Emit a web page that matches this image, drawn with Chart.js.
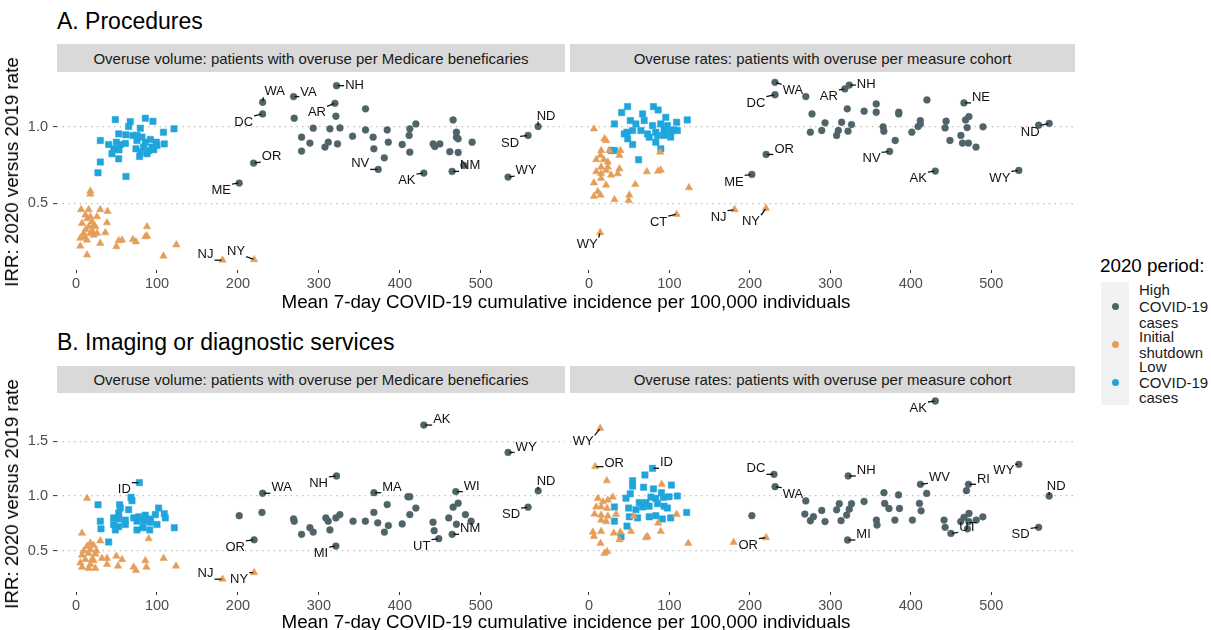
<!DOCTYPE html>
<html><head><meta charset="utf-8">
<script src="https://cdn.jsdelivr.net/npm/chart.js@4.4.1/dist/chart.umd.min.js"></script>
<style>
html,body{margin:0;padding:0;background:#fff;}
#wrap{position:relative;width:1211px;height:630px;overflow:hidden;font-family:"Liberation Sans",Arial,sans-serif;background:#fff;}
.abs{position:absolute;}
.ptitle{font-size:23px;color:#000;line-height:24px;white-space:nowrap;}
.strip{background:#D9D9D9;color:#1a1a1a;font-size:15px;display:flex;align-items:center;justify-content:center;white-space:nowrap;}
.xtitle{font-size:18.8px;color:#000;line-height:20px;white-space:nowrap;width:1018px;text-align:center;}
.ytitle{font-size:18.8px;color:#000;line-height:20px;white-space:nowrap;transform:translate(-50%,-50%) rotate(-90deg);}
.lgtitle{font-size:18.8px;color:#000;line-height:20px;white-space:nowrap;}
.lgbg{background:#F2F2F2;}
.lgdot{width:7px;height:7px;border-radius:50%;}
.lgtxt{font-size:15px;color:#1a1a1a;line-height:15.5px;white-space:nowrap;}
</style>
</head><body>
<div id="wrap">
  <div class="abs ptitle" style="left:57px;top:9px">A. Procedures</div>
  <div class="abs strip" style="left:57px;top:44px;width:508px;height:28px">Overuse volume: patients with overuse per Medicare beneficaries</div>
  <div class="abs strip" style="left:570px;top:44px;width:505px;height:28px">Overuse rates: patients with overuse per measure cohort</div>
  <canvas id="cA1" class="abs" style="left:0;top:72px" width="565" height="223"></canvas>
  <canvas id="cA2" class="abs" style="left:570px;top:72px" width="505" height="223"></canvas>
  <div class="abs xtitle" style="left:57px;top:292px">Mean 7-day COVID-19 cumulative incidence per 100,000 individuals</div>
  <div class="abs ytitle" style="left:12px;top:172px">IRR: 2020 versus 2019 rate</div>

  <div class="abs ptitle" style="left:57px;top:330px">B. Imaging or diagnostic services</div>
  <div class="abs strip" style="left:57px;top:366px;width:508px;height:27px">Overuse volume: patients with overuse per Medicare beneficaries</div>
  <div class="abs strip" style="left:570px;top:366px;width:505px;height:27px">Overuse rates: patients with overuse per measure cohort</div>
  <canvas id="cB1" class="abs" style="left:0;top:393px" width="565" height="224"></canvas>
  <canvas id="cB2" class="abs" style="left:570px;top:393px" width="505" height="224"></canvas>
  <div class="abs xtitle" style="left:57px;top:612px">Mean 7-day COVID-19 cumulative incidence per 100,000 individuals</div>
  <div class="abs ytitle" style="left:12px;top:494px">IRR: 2020 versus 2019 rate</div>

  <div class="abs lgtitle" style="left:1100px;top:256px">2020 period:</div>
  <div class="abs lgbg" style="left:1101px;top:282px;width:28px;height:123px"></div>
  <div class="abs lgdot" style="left:1112px;top:303px;background:#4F6369"></div>
  <div class="abs lgdot" style="left:1112px;top:341px;background:#E59E5A"></div>
  <div class="abs lgdot" style="left:1112px;top:379px;background:#1FA5DC"></div>
  <div class="abs lgtxt" style="left:1139px;top:282px;line-height:16.5px">High<br>COVID-19<br>cases</div>
  <div class="abs lgtxt" style="left:1139px;top:329px">Initial<br>shutdown</div>
  <div class="abs lgtxt" style="left:1139px;top:359px">Low<br>COVID-19<br>cases</div>
</div>
<script>
// ---------- data ----------
const X_TICKS = [0, 100, 200, 300, 400, 500];
const Y_TICKS_A = [0.5, 1.0];
const Y_TICKS_B = [0.5, 1.0, 1.5];

// A. Procedures — overuse volume
const A_VOL_HIGH = [[230.5,1.158,'WA'],[230.5,1.082,'DC'],[268.7,1.195,'VA'],[269.5,1.054],[219.3,0.762,'OR'],[201.6,0.632,'ME'],
[321.8,1.266,'NH'],[319.8,1.151,'AR'],[321,1.067],[357.6,1.115],[278.6,0.931],[278.6,0.84],[293,0.989],[288.9,0.892],[313.6,0.985],[326,0.991],[311.6,0.898],[307.5,0.866],[323,0.887],[341.6,0.937],[357.6,0.978],[367,0.931],[367.9,0.855],[384.4,0.978],[385.7,0.898],[380.8,0.796],[373.3,0.721,'NV'],[402.9,0.883],[411.5,0.942],[412.3,0.985],[419.8,1.017],[412.3,0.833],[429.6,0.697,'AK'],[441.1,0.887],[443.2,0.87],[449.4,0.887],[465.8,1.043],[469.9,0.963],[469.9,0.931],[472,0.92],[461.7,0.836],[472,0.831],[489.3,0.898],[479,0.747],[464.6,0.708,'NM'],[533.7,0.671,'WY'],[558.4,0.942,'SD'],[570.8,1.0,'ND']];
const A_VOL_SHUT = [[17.7,0.58],[17.7,0.56],[6.2,0.459],[15.6,0.459],[29.9,0.459],[39,0.448],[11.5,0.424],[17.7,0.413],[25.9,0.413],[19.7,0.38],[7.4,0.37],[38.3,0.374],[15.6,0.348],[23.9,0.348],[9.5,0.305],[17.7,0.305],[25.9,0.305],[36.2,0.309],[5.3,0.273],[13.6,0.261],[21.8,0.294],[29.9,0.24],[5.3,0.222],[13.6,0.164],[52.7,0.257],[56.8,0.261],[49.8,0.218],[70.3,0.265],[74,0.25],[87.7,0.348],[87.7,0.287],[85.6,0.283],[108,0.157],[123.9,0.23],[12,0.33],[20,0.32],[14,0.4],[22,0.36],[10,0.28],[181,0.13,'NJ'],[220,0.134,'NY']];
const A_VOL_LOW = [[48.5,1.045],[67,1.032],[85.6,1.054],[95,1.034],[65,1.0],[79.4,0.989],[108,0.963],[121,0.985],[52.7,0.952],[61.5,0.946],[70.2,0.942],[30,0.909],[40.3,0.883],[49.8,0.898],[54.7,0.883],[46.5,0.855],[53,0.848],[75.3,0.909],[81.5,0.931],[85.6,0.898],[91.8,0.916],[99.2,0.898],[109,0.887],[74,0.855],[83.5,0.866],[93.8,0.866],[100,0.877],[79.4,0.834],[87.7,0.823],[96,0.849],[78.6,0.805],[44.4,0.823],[52.7,0.79],[30,0.769],[27.1,0.699],[61.7,0.675],[75.3,0.942],[61,0.89],[89.7,0.844]];

// A. Procedures — overuse rates
const A_RATE_HIGH = [[231.2,1.288,'WA'],[231.2,1.207,'DC'],[269.5,1.195],[277.2,1.082],[275.2,0.963],[220.2,0.818,'OR'],[202.5,0.688,'ME'],
[318,1.245,'AR'],[323.5,1.27,'NH'],[321,1.115],[342,1.1],[357,1.147],[357,1.093],[385,1.093],[385,1.082],[420,1.173],[293.4,1.024],[289.3,0.974],[309.9,0.974],[314,1.028],[326.3,1.013],[322,0.97],[307.8,0.942],[365.6,0.998],[366.5,0.97],[380.6,0.909],[373.6,0.838,'NV'],[401.3,0.963],[409,1.0],[411.8,1.039],[411.8,1.017],[443.8,1.035],[442.6,0.991],[448.6,0.909],[462.2,0.942],[464.2,0.892],[471.6,0.892],[481,0.866],[468,1.043],[472.2,1.065],[470,0.993],[489.7,0.998],[466,1.154,'NE'],[430.4,0.71,'AK'],[534.2,0.714,'WY'],[571.9,1.02,'ND'],[558.8,1.009]];
const A_RATE_SHUT = [[6.2,0.985],[19.3,0.92],[21.4,0.909],[15.2,0.844],[25.4,0.844],[39.1,0.844],[14.4,0.812],[37.9,0.812],[9.1,0.784],[18.5,0.784],[23.5,0.769],[15.2,0.736],[23.5,0.736],[37.9,0.725],[9.1,0.706],[15.2,0.693],[21.4,0.714],[27.6,0.684],[35.8,0.693],[6.2,0.634],[21.4,0.619],[15.2,0.662],[11.1,0.576],[14.4,0.554],[6.2,0.545],[31.7,0.524],[50.2,0.554],[49.4,0.519],[57.6,0.623],[72,0.706],[89.3,0.717],[86,0.71],[88.5,0.833],[124.3,0.602],[109,0.429,'CT'],[181,0.459,'NJ'],[220,0.468,'NY'],[14,0.31,'WY']];
const A_RATE_LOW = [[48.1,1.13],[80.2,1.13],[86,1.108],[40.7,1.091],[66.7,1.082],[95.5,1.06],[31.7,1.017],[51.4,1.039],[58.4,1.017],[68.7,1.039],[79,1.006],[89.3,1.017],[97.5,1.006],[109,1.028],[122.2,1.043],[47.3,0.963],[54.3,0.974],[64.6,0.974],[72.8,0.952],[83.1,0.963],[93.4,0.978],[101.6,0.967],[109.9,0.974],[48.2,0.92],[54.3,0.883],[74.9,0.931],[85.2,0.942],[93.4,0.942],[101.6,0.931],[83.1,0.898],[89.3,0.855],[27.6,0.844],[31.7,0.844],[61.7,0.784],[105.8,0.978],[44,0.952]];

// B. Imaging — overuse volume
const B_VOL_HIGH = [[230.5,1.025,'WA'],[229.7,0.85],[201.6,0.82],[220,0.6,'OR'],[268.7,0.79],[269.5,0.77],
[429.6,1.648,'AK'],[533.7,1.398,'WY'],[321.8,1.183,'NH'],[368,1.03,'MA'],[410,0.993],[412.3,0.993],[469.1,1.04,'WI'],[472,0.934],[465.8,0.898],[570.8,1.047,'ND'],[558.4,0.898,'SD'],[384.4,0.922],[419.8,0.89],[367.9,0.85],[412.3,0.83],[460.4,0.8],[481,0.83],[488,0.77],[342.2,0.77],[357.4,0.77],[372.7,0.755],[385.8,0.73],[380.9,0.67],[402.9,0.745],[441,0.76],[442.4,0.683],[469.9,0.742],[464.6,0.65,'NM'],[448.1,0.61,'UT'],[321,0.543,'MI'],[308.6,0.8],[311.5,0.77],[321,0.8],[325.9,0.83],[313.6,0.69],[288.9,0.71],[293,0.67],[278.6,0.65]];
const B_VOL_SHUT = [[13.6,0.978],[7.4,0.66],[30,0.59],[89.7,0.61],[17.7,0.57],[13.6,0.54],[21.8,0.55],[9.5,0.5],[17.7,0.51],[25.1,0.5],[7.4,0.46],[15.6,0.475],[23.9,0.47],[11.5,0.42],[19.7,0.42],[32,0.43],[38.3,0.43],[49.8,0.45],[5.3,0.39],[17.7,0.375],[38.3,0.375],[56.8,0.42],[51.9,0.36],[7.4,0.35],[15.6,0.34],[23.9,0.34],[71.2,0.35],[74,0.32],[85.6,0.41],[86.9,0.35],[108.2,0.43],[123.5,0.36],[21.8,0.41],[181,0.24,'NJ'],[220,0.3,'NY']];
const B_VOL_LOW = [[78.2,1.122,'ID'],[67.9,0.988],[69.1,0.957],[27.2,0.92],[53.9,0.92],[54.7,0.89],[65,0.875],[52.7,0.845],[102,0.89],[109,0.838],[110.3,0.8],[46.5,0.8],[52.7,0.79],[60.9,0.78],[30,0.77],[77.4,0.81],[85.6,0.825],[91.8,0.79],[98,0.83],[75.3,0.77],[83.5,0.77],[91.8,0.76],[46.5,0.74],[52.7,0.72],[60.9,0.74],[100,0.74],[30.9,0.7],[48.6,0.69],[75.3,0.69],[82.7,0.71],[91,0.69],[121.4,0.71],[87.7,0.78],[40.3,0.58],[71.2,0.8]];

// B. Imaging — overuse rates
const B_RATE_HIGH = [[230,1.198,'DC'],[231.3,1.085,'WA'],[269.5,0.955],[202.5,0.82],[268.3,0.835],[275.2,0.774],
[430.4,1.868,'AK'],[534.2,1.289,'WY'],[322.2,1.183,'NH'],[411.9,1.107,'WV'],[419.7,1.024],[471.6,1.107,'RI'],[469.1,1.049],[571.9,1.0,'ND'],[558.8,0.714,'SD'],[449.8,0.658,'UT'],[321.4,0.598,'MI'],[366.6,1.03],[384.7,1.01],[341.9,0.95],[367.5,0.932],[372.8,0.886],[385.9,0.886],[410.7,0.932],[412.8,0.865],[311.1,0.93],[326.3,0.93],[323.5,0.88],[307.8,0.874],[320.2,0.826],[289.3,0.868],[293.4,0.766],[279,0.811],[313.3,0.775],[357.2,0.78],[358,0.735],[380.2,0.78],[402,0.78],[441.3,0.78],[442.6,0.714],[462,0.766],[466.1,0.805],[472.2,0.84],[472.2,0.766],[481.3,0.78],[489.5,0.81],[470.4,0.7]];
const B_RATE_SHUT = [[14,1.618,'WY'],[7.8,1.268,'OR'],[22.2,1.14],[90.5,1.107],[11.1,0.978],[17.3,0.948],[23.5,0.963],[9.1,0.9],[15.2,0.9],[22.6,0.887],[29.6,0.99],[7,0.835],[15.2,0.826],[23.5,0.817],[33.7,0.832],[15.2,0.78],[21.4,0.766],[5,0.67],[15.2,0.677],[6.2,0.631],[14.4,0.568],[22.6,0.492],[19.3,0.477],[30.9,0.661],[39.1,0.67],[37.9,0.6],[52.3,0.676],[70.8,0.62],[72.8,0.63],[86,0.753],[89.3,0.676],[109,0.832],[123.4,0.568],[55.5,0.817],[179.8,0.577],[220.2,0.62,'OR']];
const B_RATE_LOW = [[79,1.253,'ID'],[69.6,1.192],[54.3,1.14],[54.3,1.09],[67.9,1.08],[80.2,1.065],[90.1,1.03],[102.5,1.1],[46.1,0.98],[51.4,1.02],[77,0.99],[83.1,0.978],[92.6,0.987],[99.6,0.993],[109.9,1.0],[31.7,0.9],[49.4,0.89],[58.4,0.875],[66.7,0.9],[74.9,0.907],[85.2,0.93],[93.4,0.907],[97.5,0.89],[50.2,0.81],[60.5,0.8],[74.9,0.81],[83.1,0.82],[91.3,0.79],[101.6,0.8],[31.7,0.77],[47.3,0.725],[39.9,0.628],[121.4,0.85],[62.6,0.94],[70.8,0.94]];

// ---------- label placement (pixel offsets of text from its point) ----------
const OFF_A1 = {'WA@230.5':[12,-11],'DC@230.5':[-19,8],'VA@268.7':[15,-5],'AR@319.8':[-18,9],'NH@321.8':[18,-1],'OR@219.3':[18,-7],'ME@201.6':[-18,7],'NJ@181':[-17,-6],'NY@220':[-18,-9],'NV@373.3':[-18,-6],'AK@429.6':[-17,7],'NM@464.6':[18,-6],'WY@533.7':[18,-7],'SD@558.4':[-18,7],'ND@570.8':[8,-11]};
const OFF_A2 = {'WA@231.2':[18,8],'DC@231.2':[-19,8],'OR@220.2':[18,-6],'ME@202.5':[-18,7],'CT@109':[-18,8],'NJ@181':[-16,7],'NY@220':[-15,13],'WY@14':[-13,11],'AR@318':[-16,7],'NH@323.5':[17,-1],'NE@466':[17,-6],'NV@373.6':[-18,7],'AK@430.4':[-17,7],'WY@534.2':[-19,7],'ND@571.9':[-19,8]};
const OFF_B1 = {'ID@78.2':[-15,6],'WA@230.5':[19,-6],'OR@220':[-19,7],'NJ@181':[-17,-6],'NY@220':[-15,6],'AK@429.6':[18,-6],'WY@533.7':[18,-6],'NH@321.8':[-18,7],'MA@368':[18,-6],'WI@469.1':[16,-6],'ND@570.8':[8,-10],'SD@558.4':[-17,7],'NM@464.6':[18,-6],'UT@448.1':[-17,7],'MI@321':[-15,7]};
const OFF_B2 = {'WY@14':[-17,13],'OR@7.8':[19,-4],'ID@79':[14,-6],'DC@230':[-18,-6],'WA@231.3':[18,7],'OR@220.2':[-18,7],'AK@430.4':[-17,7],'NH@322.2':[18,-6],'WV@411.9':[19,-7],'RI@471.6':[15,-5],'WY@534.2':[-15,6],'ND@571.9':[7,-10],'SD@558.8':[-18,7],'UT@449.8':[17,-7],'MI@321.4':[16,-6]};

// ---------- rendering ----------
const C_HIGH = '#4F6369', C_SHUT = '#E59E5A', C_LOW = '#1FA5DC';
const FONT = '"Liberation Sans", Arial, sans-serif';
Chart.defaults.font.family = FONT;

const toPts = arr => arr.map(([x, y, s]) => ({x, y, s}));

function makeLabelPlugin(offsets) {
  return {
    id: 'stateLabels',
    afterDatasetsDraw(chart) {
      const ctx = chart.ctx, xs = chart.scales.x, ys = chart.scales.y;
      ctx.save();
      ctx.font = '13px ' + FONT;
      ctx.textAlign = 'center'; ctx.textBaseline = 'middle';
      chart.data.datasets.forEach(ds => ds.data.forEach(p => {
        if (!p.s) return;
        const off = offsets[p.s + '@' + p.x] || [14, -7];
        const px = xs.getPixelForValue(p.x), py = ys.getPixelForValue(p.y);
        const cx = px + off[0], cy = py + off[1];
        const w = ctx.measureText(p.s).width, h = 10;
        const rx = Math.max(cx - w / 2 - 1, Math.min(px, cx + w / 2 + 1));
        const ry = Math.max(cy - h / 2 - 1, Math.min(py, cy + h / 2 + 1));
        const dx = rx - px, dy = ry - py, d = Math.hypot(dx, dy);
        if (d > 2.5) {
          ctx.beginPath(); ctx.moveTo(px + dx / d * 1, py + dy / d * 1); ctx.lineTo(rx, ry);
          ctx.strokeStyle = '#111'; ctx.lineWidth = 1.3; ctx.stroke();
        }
        ctx.fillStyle = '#111';
        ctx.fillText(p.s, cx, cy + 0.5);
      }));
      ctx.restore();
    }
  };
}

function makePanel(id, cfg) {
  const ds = (data, style, r, col) => ({data: toPts(data), pointStyle: style, pointRadius: r, pointHoverRadius: r,
    backgroundColor: col, borderColor: col, pointBorderWidth: 0.5, showLine: false});
  new Chart(document.getElementById(id), {
    type: 'scatter',
    data: {datasets: [
      ds(cfg.high, 'circle', 3.4, C_HIGH),
      ds(cfg.shut, 'triangle', 4.3, C_SHUT),
      ds(cfg.low, 'rect', 4.5, C_LOW)
    ]},
    options: {
      responsive: false, animation: false, devicePixelRatio: 1,
      layout: {padding: 0, autoPadding: false},
      plugins: {legend: {display: false}, tooltip: {enabled: false}, title: {display: false}},
      scales: {
        x: {
          type: 'linear', min: -23.5, max: 604,
          afterBuildTicks: s => { s.ticks = X_TICKS.map(v => ({value: v})); },
          afterFit: s => { s.height = 25; s.paddingLeft = 0; s.paddingRight = 0; },
          grid: {drawOnChartArea: false, drawTicks: true, tickLength: 3, tickColor: '#333', tickWidth: 1},
          border: {display: false},
          ticks: {color: '#4d4d4d', font: {size: 14.5}, padding: 2, maxRotation: 0, autoSkip: false, callback: v => String(v)}
        },
        y: {
          type: 'linear', min: cfg.ymin, max: cfg.ymax,
          afterBuildTicks: s => { s.ticks = cfg.yticks.map(v => ({value: v})); },
          afterFit: s => { s.width = cfg.left ? 57 : 0; s.paddingTop = 0; s.paddingBottom = 0; },
          grid: {drawTicks: cfg.left, tickLength: 4, tickColor: '#333', tickWidth: 1, tickBorderDash: [], color: '#B5B5B5', lineWidth: 1.2, borderDash: [1.3, 4.4]},
          border: {display: false, dash: [1.3, 4.4]},
          ticks: {display: cfg.left, color: '#4d4d4d', font: {size: 14.5}, padding: 5, autoSkip: false, callback: v => Number(v).toFixed(1)}
        }
      }
    },
    plugins: [makeLabelPlugin(cfg.offsets)]
  });
}

makePanel('cA1', {high: A_VOL_HIGH, shut: A_VOL_SHUT, low: A_VOL_LOW, offsets: OFF_A1, left: true, ymin: 0.066, ymax: 1.355, yticks: Y_TICKS_A});
makePanel('cA2', {high: A_RATE_HIGH, shut: A_RATE_SHUT, low: A_RATE_LOW, offsets: OFF_A2, left: false, ymin: 0.066, ymax: 1.355, yticks: Y_TICKS_A});
makePanel('cB1', {high: B_VOL_HIGH, shut: B_VOL_SHUT, low: B_VOL_LOW, offsets: OFF_B1, left: true, ymin: 0.123, ymax: 1.941, yticks: Y_TICKS_B});
makePanel('cB2', {high: B_RATE_HIGH, shut: B_RATE_SHUT, low: B_RATE_LOW, offsets: OFF_B2, left: false, ymin: 0.123, ymax: 1.941, yticks: Y_TICKS_B});
</script>
</body></html>
